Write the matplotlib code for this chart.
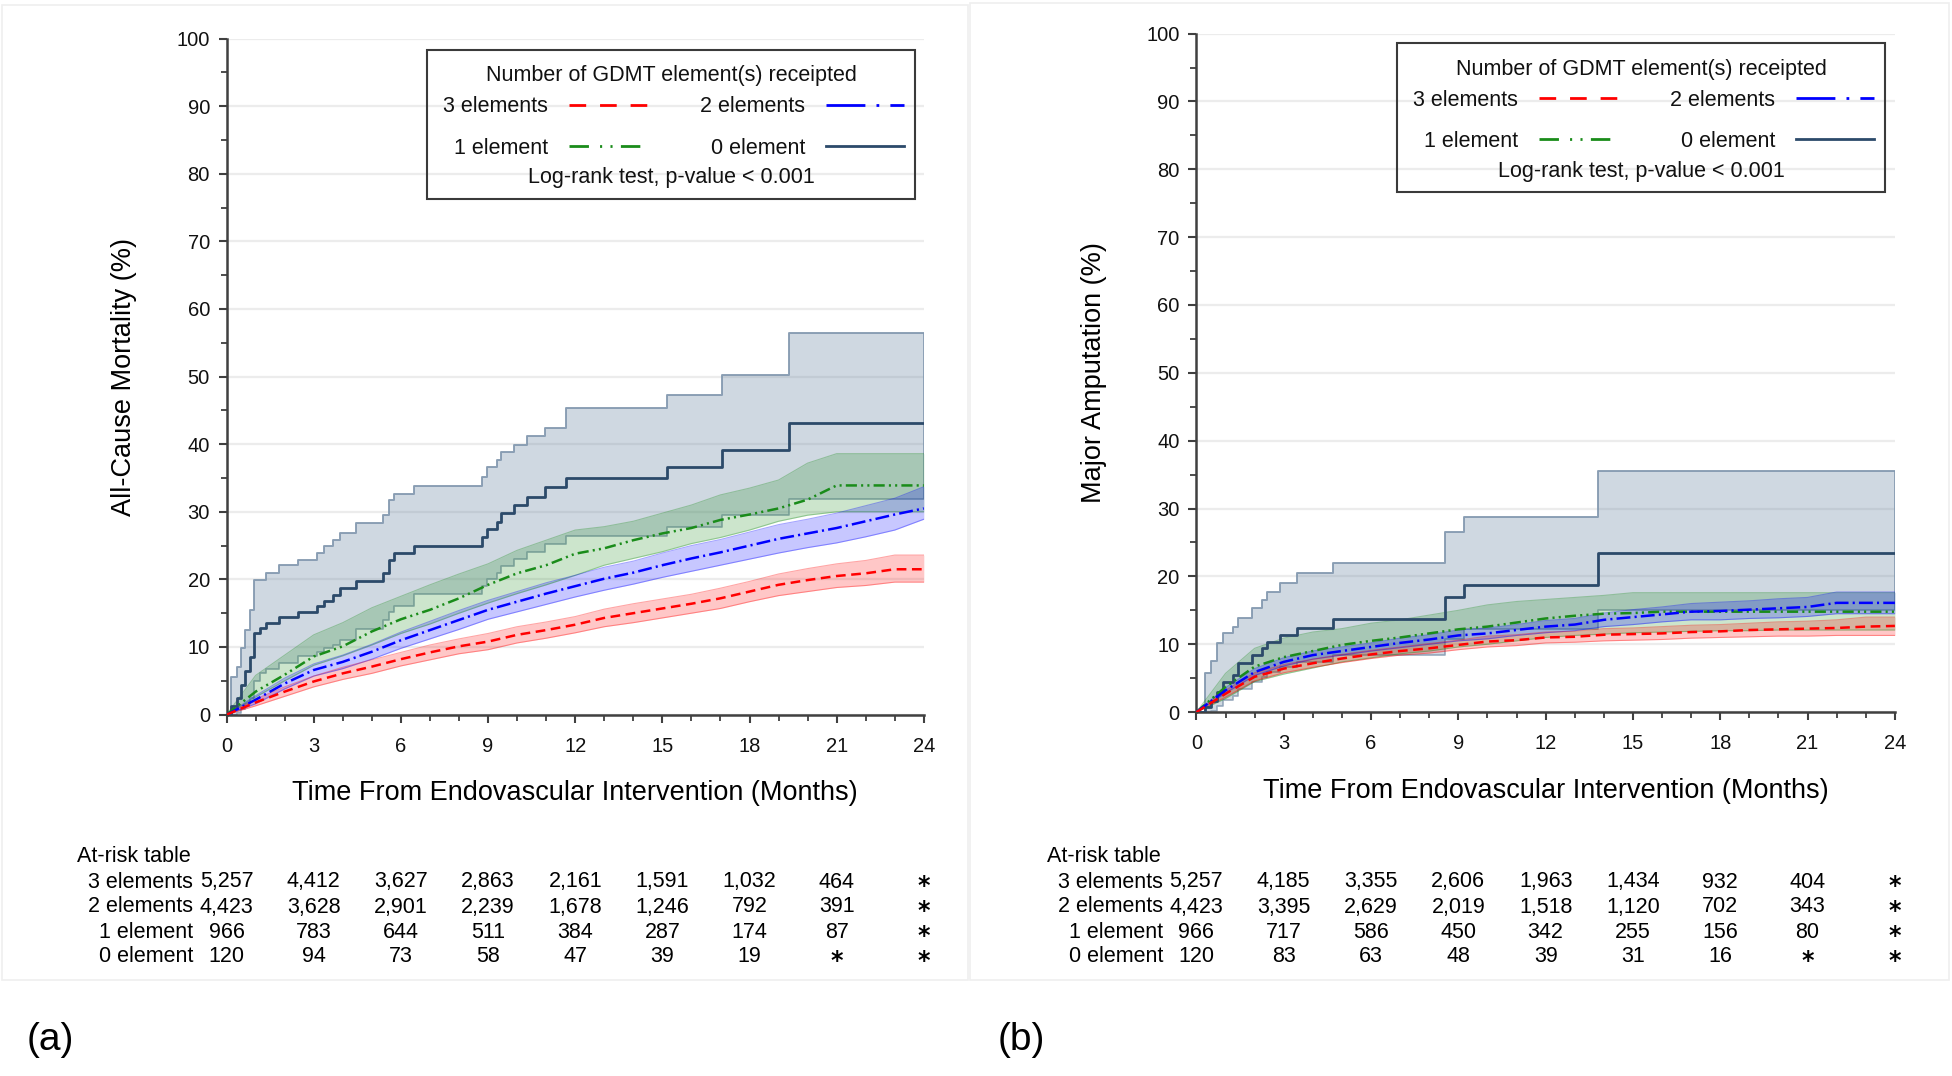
import matplotlib
matplotlib.use('Agg')
import matplotlib.pyplot as plt
from matplotlib.lines import Line2D
from matplotlib.patches import Rectangle
from matplotlib.transforms import blended_transform_factory

plt.rcParams['font.family'] = ['Liberation Sans', 'DejaVu Sans']
plt.rcParams['lines.scale_dashes'] = False

W, H = 1952, 1076

MONTHS = list(range(25))
X_TICKS = list(range(0, 25, 3))
GROUPS = ['3 elements', '2 elements', '1 element', '0 element']

# ---- (a) all-cause mortality, cumulative % read at each month ----
A_EST_3 = [0, 1.8, 3.4, 4.9, 6.1, 7.1, 8.2, 9.2, 10.1, 10.8, 11.8, 12.5, 13.3,
           14.3, 15.0, 15.7, 16.4, 17.2, 18.2, 19.2, 19.9, 20.5, 20.9, 21.5, 21.5]
A_LO_3 = [0, 1.3, 2.7, 4.1, 5.2, 6.1, 7.2, 8.1, 9.0, 9.6, 10.6, 11.3, 12.1,
          13.0, 13.6, 14.3, 15.0, 15.7, 16.7, 17.6, 18.2, 18.8, 19.1, 19.6, 19.6]
A_HI_3 = [0, 2.3, 4.1, 5.7, 7.0, 8.1, 9.2, 10.3, 11.2, 12.0, 13.0, 13.7, 14.5,
          15.6, 16.4, 17.1, 17.8, 18.7, 19.7, 20.8, 21.6, 22.3, 22.8, 23.6, 23.6]

A_EST_2 = [0, 2.2, 4.6, 6.6, 7.8, 9.3, 11.0, 12.5, 14.0, 15.5, 16.7, 17.9, 19.0,
           20.1, 21.0, 22.1, 23.1, 24.0, 25.0, 26.0, 26.8, 27.6, 28.6, 29.6, 30.5]
A_LO_2 = [0, 1.6, 3.8, 5.7, 6.8, 8.2, 9.8, 11.2, 12.6, 14.1, 15.2, 16.3, 17.4,
          18.4, 19.3, 20.3, 21.2, 22.1, 23.0, 23.9, 24.7, 25.4, 26.3, 27.3, 28.9]
A_HI_2 = [0, 2.8, 5.4, 7.5, 8.8, 10.4, 12.2, 13.8, 15.4, 16.9, 18.2, 19.5, 20.6,
          21.8, 22.7, 23.9, 25.0, 25.9, 27.0, 28.1, 28.9, 29.8, 30.9, 32.0, 33.7]

A_EST_1 = [0, 3.4, 5.9, 8.6, 10.1, 12.3, 14.1, 15.5, 17.2, 19.2, 20.9, 22.1, 23.8,
           24.6, 25.8, 26.8, 27.6, 28.8, 29.6, 30.5, 31.8, 33.9, 33.9, 33.9, 33.9]
A_LO_1 = [0, 2.6, 5.0, 7.3, 8.7, 10.3, 12.0, 13.4, 15.0, 16.5, 17.9, 19.2, 20.6,
          22.1, 23.1, 24.1, 25.3, 26.2, 27.3, 28.6, 29.5, 30.0, 30.0, 30.0, 30.0]
A_HI_1 = [0, 5.8, 8.8, 11.8, 13.6, 15.8, 17.5, 19.2, 20.8, 22.3, 24.3, 25.8, 27.3,
          27.8, 28.6, 29.8, 31.0, 32.5, 33.5, 34.7, 37.2, 38.6, 38.6, 38.6, 38.6]

# 0 element group is a coarse step curve
A_T_0 = [0, 0.15, 0.35, 0.5, 0.65, 0.8, 0.95, 1.15, 1.35, 1.8, 2.45, 3.1, 3.35,
         3.65, 3.9, 4.45, 5.4, 5.6, 5.75, 6.45, 8.8, 8.95, 9.3, 9.45, 9.9, 10.35,
         10.95, 11.7, 15.15, 17.05, 19.37, 24]
A_EST_0 = [0, 1.2, 2.5, 4.4, 6.5, 8.5, 12.0, 12.8, 13.5, 14.4, 15.2, 16.1, 16.8,
           17.7, 18.7, 19.8, 20.9, 22.9, 23.9, 25.0, 26.3, 27.4, 28.5, 29.8, 31.0,
           32.2, 33.7, 35.0, 36.7, 39.2, 43.1, 43.1]
A_LO_0 = [0, 0, 0.3, 0.8, 1.5, 2.5, 5.0, 6.1, 6.8, 7.6, 8.6, 9.3, 9.8, 10.3, 11.0,
          12.6, 14.0, 15.2, 16.0, 17.9, 19.0, 20.0, 21.0, 22.0, 23.0, 24.0, 25.2,
          26.4, 27.8, 29.5, 31.9, 31.9]
A_HI_0 = [0, 5.6, 7.1, 9.8, 12.5, 15.5, 19.9, 19.9, 20.9, 22.1, 22.9, 23.9, 24.9,
          25.8, 26.8, 28.3, 29.5, 31.8, 32.7, 33.8, 35.2, 36.7, 37.7, 38.9, 39.9,
          41.2, 42.4, 45.3, 47.3, 50.2, 56.4, 56.4]

# ---- (b) major amputation ----
B_EST_3 = [0, 2.7, 5.2, 6.4, 7.2, 7.9, 8.5, 9.0, 9.4, 9.9, 10.4, 10.6, 11.0,
           11.1, 11.4, 11.5, 11.6, 11.8, 11.9, 12.1, 12.2, 12.3, 12.4, 12.6, 12.7]
B_LO_3 = [0, 2.2, 4.6, 5.8, 6.6, 7.3, 7.9, 8.4, 8.7, 9.2, 9.6, 9.8, 10.2,
          10.3, 10.5, 10.6, 10.7, 10.9, 11.0, 11.1, 11.2, 11.2, 11.3, 11.3, 11.3]
B_HI_3 = [0, 3.2, 5.8, 7.0, 7.8, 8.5, 9.1, 9.6, 10.1, 10.6, 11.2, 11.4, 11.8,
          11.9, 12.3, 12.4, 12.6, 12.8, 12.9, 13.1, 13.3, 13.4, 13.6, 14.0, 14.0]

B_EST_2 = [0, 3.2, 5.9, 7.4, 8.4, 9.0, 9.6, 10.2, 10.7, 11.3, 11.6, 12.1, 12.6,
           12.9, 13.6, 14.0, 14.4, 14.8, 14.9, 15.1, 15.3, 15.5, 16.1, 16.1, 16.1]
B_LO_2 = [0, 2.8, 5.4, 6.8, 7.8, 8.4, 9.0, 9.5, 10.0, 10.5, 10.8, 11.3, 11.7,
          12.0, 12.6, 12.9, 13.3, 13.6, 13.6, 13.8, 13.9, 14.1, 14.5, 14.5, 14.5]
B_HI_2 = [0, 3.6, 6.4, 8.0, 9.0, 9.6, 10.2, 10.9, 11.4, 12.1, 12.4, 12.9, 13.5,
          13.8, 14.6, 15.1, 15.5, 16.0, 16.2, 16.4, 16.7, 16.9, 17.7, 17.7, 17.7]

B_EST_1 = [0, 3.7, 6.7, 8.1, 9.0, 9.9, 10.5, 11.0, 11.6, 12.2, 12.6, 13.2, 13.8,
           14.2, 14.5, 14.6, 14.8, 14.8, 14.8, 14.8, 14.8, 14.8, 14.8, 14.8, 14.8]
B_LO_1 = [0, 2.0, 4.5, 5.6, 6.5, 7.4, 8.0, 8.6, 9.0, 9.6, 10.0, 10.5, 11.0,
          11.3, 11.5, 11.7, 11.8, 11.9, 12.0, 12.0, 12.1, 12.1, 12.1, 12.1, 12.1]
B_HI_1 = [0, 5.7, 9.4, 10.9, 11.8, 12.3, 13.1, 13.6, 14.3, 15.0, 15.8, 16.3, 16.6,
          16.9, 17.2, 17.6, 17.6, 17.6, 17.6, 17.6, 17.6, 17.6, 17.6, 17.6, 17.6]

B_T_0 = [0, 0.3, 0.5, 0.7, 0.93, 1.27, 1.44, 1.9, 2.25, 2.42, 2.88, 3.45, 4.71,
         8.55, 9.18, 13.8, 24]
B_EST_0 = [0, 0.8, 1.6, 3.0, 4.5, 5.5, 7.2, 8.4, 9.4, 10.4, 11.3, 12.4, 13.7,
           16.9, 18.7, 23.4, 23.4]
B_LO_0 = [0, 0, 0.1, 0.9, 1.8, 2.4, 3.4, 4.4, 5.1, 5.9, 6.6, 7.4, 8.4, 10.8,
          12.2, 15.0, 15.0]
B_HI_0 = [0, 5.7, 7.5, 10.2, 11.6, 12.6, 13.8, 15.3, 16.5, 17.7, 19.1, 20.5, 22.0,
          26.6, 28.8, 35.5, 35.5]

# ---- at-risk tables ----
RISK_A = [
    ['5,257', '4,412', '3,627', '2,863', '2,161', '1,591', '1,032', '464', '*'],
    ['4,423', '3,628', '2,901', '2,239', '1,678', '1,246', '792', '391', '*'],
    ['966', '783', '644', '511', '384', '287', '174', '87', '*'],
    ['120', '94', '73', '58', '47', '39', '19', '*', '*'],
]
RISK_B = [
    ['5,257', '4,185', '3,355', '2,606', '1,963', '1,434', '932', '404', '*'],
    ['4,423', '3,395', '2,629', '2,019', '1,518', '1,120', '702', '343', '*'],
    ['966', '717', '586', '450', '342', '255', '156', '80', '*'],
    ['120', '83', '63', '48', '39', '31', '16', '*', '*'],
]

RED, BLUE, GREEN, SLATE = '#ff0000', '#0000ff', '#1a8c1a', '#2c4a6a'
SLATE_FILL, SLATE_EDGE = '#6c87a3', '#8197ae'
LS = {
    'red': (0, (7, 4)),
    'blue': (0, (10, 3, 1.5, 3)),
    'green': (0, (8, 3, 1.5, 3, 1.5, 3)),
}
LEGEND_LS = {
    'red': (0, (12, 10)),
    'blue': (0, (28, 8, 2, 8)),
    'green': (0, (14, 8, 1.5, 6, 1.5, 6)),
}
AXIS_GREY = '#404040'

fig = plt.figure(figsize=(W / 100, H / 100), dpi=100)


def fx(px):
    return px / W


def fy(py):
    return 1 - py / H


def draw_panel(ax, smooth, zero, ylabel):
    t0, est0, lo0, hi0 = zero
    ax.fill_between(t0, lo0, hi0, step='post', color=SLATE_FILL, alpha=0.32,
                    lw=0, zorder=1)
    ax.step(t0, lo0, where='post', color=SLATE_EDGE, lw=1.2, alpha=0.8, zorder=1.1)
    ax.step(t0, hi0, where='post', color=SLATE_EDGE, lw=1.4, alpha=0.9, zorder=1.1)
    ax.vlines(t0[-1], lo0[-1], hi0[-1], color=SLATE_EDGE, lw=1.2, zorder=1.1)

    for est, lo, hi, color, key in smooth:
        ax.fill_between(MONTHS, lo, hi, color=color, alpha=0.22, lw=0, zorder=2)
        ax.plot(MONTHS, lo, color=color, lw=0.8, alpha=0.35, zorder=2.1)
        ax.plot(MONTHS, hi, color=color, lw=0.8, alpha=0.35, zorder=2.1)

    ax.step(t0, est0, where='post', color=SLATE, lw=2.0, zorder=4)
    for est, lo, hi, color, key in smooth:
        ax.plot(MONTHS, est, color=color, lw=1.8, ls=LS[key], zorder=5)

    ax.set_xlim(0, 24)
    ax.set_ylim(0, 100)
    ax.set_xticks(X_TICKS)
    ax.set_xticks(MONTHS, minor=True)
    ax.set_yticks(range(0, 101, 10))
    ax.set_yticks(range(0, 101, 5), minor=True)
    ax.tick_params(which='major', length=6, width=1.5, color=AXIS_GREY,
                   labelsize=14.5, pad=6, labelcolor='#111111')
    ax.tick_params(axis='x', which='major', pad=10)
    ax.tick_params(which='minor', length=4, width=1.3, color=AXIS_GREY)
    for side in ['top', 'right']:
        ax.spines[side].set_visible(False)
    for side in ['left', 'bottom']:
        ax.spines[side].set_color(AXIS_GREY)
        ax.spines[side].set_linewidth(1.8)
    ax.yaxis.grid(True, which='major', color='#ececec', lw=1.6)
    ax.set_axisbelow(True)

    ax.set_xlabel('Time From Endovascular Intervention (Months)', fontsize=19.5)
    ax.set_ylabel(ylabel, fontsize=19.5)
    ax.xaxis.set_label_coords(0.5, -0.097)
    ax.yaxis.set_label_coords(-0.128, 0.5)


def draw_legend(dx, dy):
    box = Rectangle((fx(427 + dx), fy(199 + dy)), fx(488), 149 / H,
                    transform=fig.transFigure, fill=False, ec='#3a3a3a', lw=1.5)
    fig.add_artist(box)
    kw = dict(fontsize=15.5, va='center', color='#111111')
    fig.text(fx(671 + dx), fy(76 + dy), 'Number of GDMT element(s) receipted',
             ha='center', **kw)
    entries = [
        ('3 elements', 548, 107, RED, LEGEND_LS['red']),
        ('2 elements', 805, 107, BLUE, LEGEND_LS['blue']),
        ('1 element', 548, 148, GREEN, LEGEND_LS['green']),
        ('0 element', 805, 148, SLATE, '-'),
    ]
    for label, xr, yc, color, ls in entries:
        fig.text(fx(xr + dx), fy(yc + dy), label, ha='right', **kw)
        fig.add_artist(Line2D([fx(xr + 21 + dx), fx(xr + 99 + dx)],
                              [fy(yc - 2 + dy), fy(yc - 2 + dy)],
                              transform=fig.transFigure, color=color, lw=2,
                              ls=ls))
    fig.text(fx(671 + dx), fy(178 + dy), 'Log-rank test, p-value < 0.001',
             ha='center', **kw)


def draw_table(ax, head_x, label_right, rows):
    tr = blended_transform_factory(ax.transData, fig.transFigure)
    fig.text(fx(head_x), fy(857), 'At-risk table', fontsize=15.5, va='center')
    ys = [882, 907, 932, 957]
    for name, row, y in zip(GROUPS, rows, ys):
        fig.text(fx(label_right), fy(y), name, fontsize=15.5, va='center',
                 ha='right')
        for x, val in zip(X_TICKS, row):
            if val == '*':
                ax.text(x, fy(y + 4), val, transform=tr, fontsize=17,
                        family='DejaVu Sans', fontweight='bold',
                        ha='center', va='center', clip_on=False)
            else:
                ax.text(x, fy(y), val, transform=tr, fontsize=15.5,
                        ha='center', va='center', clip_on=False)


# faint panel frames
fig.add_artist(Rectangle((fx(2), fy(980)), fx(966), 975 / H,
                         transform=fig.transFigure, fill=False,
                         ec='#efefef', lw=1.2))
fig.add_artist(Rectangle((fx(970), fy(980)), fx(979), 977 / H,
                         transform=fig.transFigure, fill=False,
                         ec='#efefef', lw=1.2))

ax_a = fig.add_axes([fx(226.6), fy(714.6), 697.2 / W, 676 / H])
ax_b = fig.add_axes([fx(1196.4), fy(712.1), 698.5 / W, 678.5 / H])

draw_panel(ax_a,
           [(A_EST_1, A_LO_1, A_HI_1, GREEN, 'green'),
            (A_EST_2, A_LO_2, A_HI_2, BLUE, 'blue'),
            (A_EST_3, A_LO_3, A_HI_3, RED, 'red')],
           (A_T_0, A_EST_0, A_LO_0, A_HI_0),
           'All-Cause Mortality (%)')
draw_panel(ax_b,
           [(B_EST_1, B_LO_1, B_HI_1, GREEN, 'green'),
            (B_EST_2, B_LO_2, B_HI_2, BLUE, 'blue'),
            (B_EST_3, B_LO_3, B_HI_3, RED, 'red')],
           (B_T_0, B_EST_0, B_LO_0, B_HI_0),
           'Major Amputation (%)')

draw_legend(0, 0)
draw_legend(970, -7)

draw_table(ax_a, 77, 193, RISK_A)
draw_table(ax_b, 1047, 1163, RISK_B)

fig.text(fx(50), fy(1040), '(a)', fontsize=28, ha='center', va='center')
fig.text(fx(1021), fy(1040), '(b)', fontsize=28, ha='center', va='center')

fig.savefig('out.png', dpi=100, facecolor='white')
